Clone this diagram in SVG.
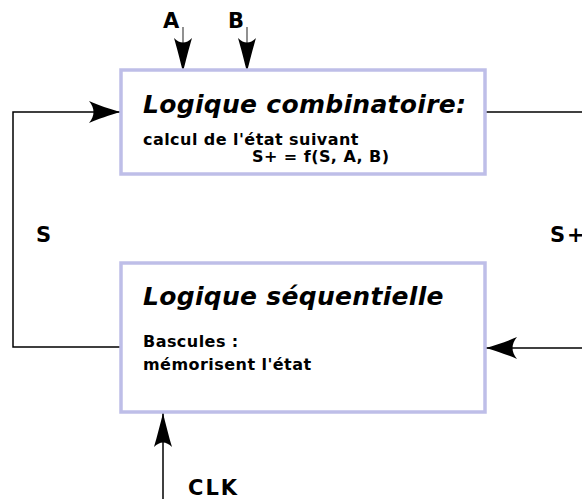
<svg xmlns="http://www.w3.org/2000/svg" width="582" height="499" viewBox="0 0 582 499">
<style>
.box{fill:#ffffff;stroke:#bebee8;stroke-width:3.5}
.wire{fill:none;stroke:#000;stroke-width:1.5}
.thin{fill:none;stroke:#555;stroke-width:1.3}
.t{font-family:"DejaVu Sans",sans-serif;font-weight:bold;fill:#000}
.ti{font-family:"DejaVu Sans",sans-serif;font-weight:bold;font-style:italic;fill:#000;font-size:25px;letter-spacing:0.3px}
.sm{font-size:16px;letter-spacing:0.45px}
.lb{font-size:21px;letter-spacing:2px}
</style>
<defs>
<marker id="arr" viewBox="-33 -11 34 22" markerWidth="34" markerHeight="22" refX="0" refY="0" orient="auto" markerUnits="userSpaceOnUse">
<path d="M0,0 C-10,-3 -22,-7 -31,-11 C-25,-4 -25,4 -31,11 C-22,7 -10,3 0,0 Z" fill="#000"/>
</marker>
<marker id="arrv" viewBox="-35 -9 36 18" markerWidth="36" markerHeight="18" refX="0" refY="0" orient="auto" markerUnits="userSpaceOnUse">
<path d="M0,0 C-10,-2.5 -24,-6 -34,-9 C-28,-3 -28,3 -34,9 C-24,6 -10,2.5 0,0 Z" fill="#000"/>
</marker>
</defs>
<g id="connectors">
<path class="wire" d="M121,347 H13 V112 H120" marker-end="url(#arr)"/>
<path class="wire" d="M486,112 H582"/>
<path class="wire" d="M582,348 H486" marker-end="url(#arr)"/>
<path class="thin" d="M183,27 V72" marker-end="url(#arrv)"/>
<path class="thin" d="M247,27 V72" marker-end="url(#arrv)"/>
<path class="wire" d="M163,499 V413" marker-end="url(#arrv)"/>
</g>
<g id="combinatoire">
<rect class="box" x="121" y="70" width="364" height="104"/>
<text class="ti" x="143" y="113">Logique combinatoire:</text>
<text class="t sm" x="143" y="145">calcul de l'état suivant</text>
<text class="t sm" x="252" y="162">S+ = f(S, A, B)</text>
</g>
<g id="sequentielle">
<rect class="box" x="121" y="263" width="364" height="149"/>
<text class="ti" x="143" y="305">Logique séquentielle</text>
<text class="t sm" x="143" y="347">Bascules :</text>
<text class="t sm" x="143" y="370">mémorisent l'état</text>
</g>
<g id="labels">
<text class="t lb" x="163" y="28">A</text>
<text class="t lb" x="228" y="28">B</text>
<text class="t lb" x="36" y="242">S</text>
<text class="t lb" x="550" y="242">S+</text>
<text class="t lb" x="188" y="495">CLK</text>
</g>
</svg>
